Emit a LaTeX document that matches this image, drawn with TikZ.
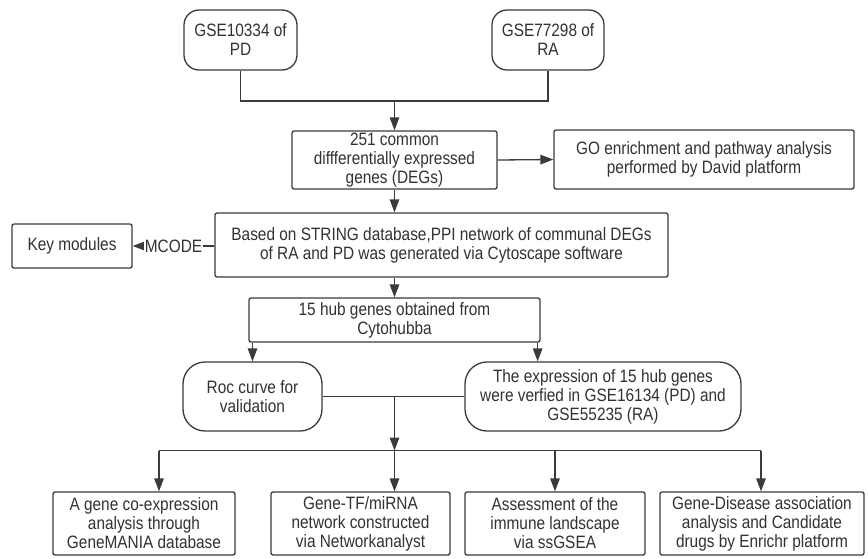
\documentclass[tikz,border=0pt]{standalone}
\usepackage{fontspec}
\setmainfont{Liberation Sans}[FakeStretch=0.86]
\usetikzlibrary{arrows.meta,positioning,calc}
\definecolor{lineedge}{RGB}{58,58,58}
\definecolor{textgray}{RGB}{50,50,50}

\begin{document}
\begin{tikzpicture}[
  x=1pt,y=-1pt,
  font=\fontsize{17.9}{19}\selectfont,
  text=textgray,
  arrow/.style={-{Triangle[length=13pt,width=9.5pt]},line width=1.3pt,draw=lineedge},
  plain/.style={line width=1.3pt,draw=lineedge},
  stepbox/.style={draw=lineedge,fill=white,line width=1.3pt,rounded corners=2pt,
    align=center,inner sep=1pt},
  roundbox/.style={draw=lineedge,fill=white,line width=1.3pt,rounded corners=15pt,
    align=center,inner sep=1pt}
]
\useasboundingbox (0,0) rectangle (868,558);

% -------------------------------------------------------------------------
% Input data sets.
% -------------------------------------------------------------------------
\node[roundbox,minimum width=113,minimum height=60] (gsepd) at (240.5,40)
  {GSE10334 of\\PD};
\node[roundbox,minimum width=112,minimum height=60] (gsera) at (548,40)
  {GSE77298 of\\RA};
\coordinate (join) at (394.5,101);

\node[stepbox,minimum width=205,minimum height=58] (degs) at (394.5,160)
  {251 common\\diffferentially expressed\\genes (DEGs)};
\node[stepbox,minimum width=300,minimum height=59] (go) at (704,159.5)
  {GO enrichment and pathway analysis\\performed by David platform};
\draw[plain] (gsepd.south) |- (join) -| (gsera.south);
\draw[arrow] (join) -- (degs.north);
\draw[arrow] (degs.east) -- (go.west);

% -------------------------------------------------------------------------
% PPI network and hub genes.
% -------------------------------------------------------------------------
\node[stepbox,minimum width=453,minimum height=64] (string) at (441.5,245)
  {Based on STRING database,PPI network of communal DEGs\\of RA and PD was generated via Cytoscape software};
\node[stepbox,minimum width=120,minimum height=44] (modules) at (72,246)
  {Key modules};
\draw[arrow] (degs.south) -- (degs.south |- string.north);
\draw[arrow] (string.west |- modules.east) -- node[fill=white,inner sep=1pt] {MCODE} (modules.east);

\node[stepbox,minimum width=291,minimum height=44] (hub) at (394.5,320)
  {15 hub genes obtained from\\Cytohubba};
\draw[arrow] (degs.south |- string.south) -- (hub.north);

% -------------------------------------------------------------------------
% Validation.
% -------------------------------------------------------------------------
\node[roundbox,rounded corners=22pt,minimum width=139,minimum height=69] (roc) at (252.5,396.5)
  {Roc curve for\\validation};
\node[roundbox,rounded corners=22pt,minimum width=276,minimum height=69] (expr) at (603,396.5)
  {The expression of 15 hub genes\\were verfied in GSE16134 (PD) and\\GSE55235 (RA)};
\draw[arrow] (hub.south -| roc.north) -- (roc.north);
\draw[arrow] ([xshift=-3pt]hub.south east) -- ([xshift=-3pt]hub.south east |- expr.north);
\draw[plain] (roc.east) -- (expr.west);

% -------------------------------------------------------------------------
% Downstream analyses.
% -------------------------------------------------------------------------
\node[stepbox,minimum width=182,minimum height=63] (coexp) at (144,523.5)
  {A gene co-expression\\analysis through\\GeneMANIA database};
\node[stepbox,minimum width=179,minimum height=63] (tfmirna) at (360.5,523.5)
  {Gene-TF/miRNA\\network constructed\\via Networkanalyst};
\node[stepbox,minimum width=180,minimum height=63] (immune) at (555,523.5)
  {Assessment of the\\immune landscape\\via ssGSEA};
\node[stepbox,minimum width=204,minimum height=63] (drugs) at (762,523.5)
  {Gene-Disease association\\analysis and Candidate\\drugs by Enrichr platform};
\coordinate (bus) at (394.5,450.5);
\draw[arrow] (hub.south |- roc.east) -- (bus);
\draw[plain] ([xshift=15pt]coexp.north |- bus) -- ([xshift=-1pt]drugs.north |- bus);
\foreach \b/\s in {coexp/15,tfmirna/34,immune/0,drugs/-1}
  {\draw[arrow] ([xshift=\s pt]\b.north |- bus) -- ([xshift=\s pt]\b.north);}
\end{tikzpicture}
\end{document}
